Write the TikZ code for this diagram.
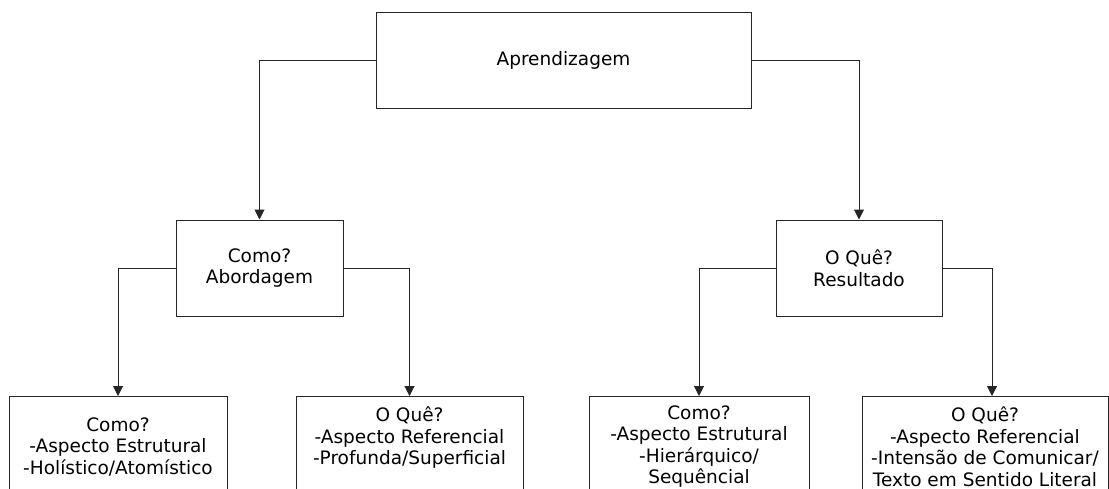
\documentclass[tikz,border=0pt]{standalone}
\usepackage{fontspec}
\setmainfont{DejaVu Sans}
\usetikzlibrary{arrows.meta,calc}
\begin{document}
\begin{tikzpicture}[x=1pt,y=-1pt,
  box/.style={draw=black!85,line width=1pt,align=center,inner sep=0pt,
    font=\fontsize{18.5}{21.5}\selectfont},
  conn/.style={draw=black!85,line width=1pt,-{Triangle[width=10pt,length=10pt]}}]
\useasboundingbox (0,0) rectangle (1109,488);
\clip (0,0) rectangle (1109,488);
\node[box,minimum width=375pt,minimum height=96pt] (top) at (563.5,60) {Aprendizagem};
\node[box,minimum width=167pt,minimum height=96pt] (abord) at (259.5,268) {Como?\\Abordagem};
\node[box,minimum width=166pt,minimum height=96pt] (res) at (859,268) {O Quê?\\Resultado};
\node[box,minimum width=218pt,minimum height=100pt,anchor=north] (b1) at (118,396) {Como?\\-Aspecto Estrutural\\-Holístico/Atomístico};
\node[box,minimum width=227pt,minimum height=100pt,anchor=north] (b2) at (409.5,396) {O Quê?\\-Aspecto Referencial\\-Profunda/Superficial\\\mbox{}};
\node[box,minimum width=220pt,minimum height=100pt,anchor=north] (b3) at (699,396) {Como?\\-Aspecto Estrutural\\-Hierárquico/\\Sequêncial};
\node[box,minimum width=246pt,minimum height=100pt,anchor=north] (b4) at (985,396) {O Quê?\\-Aspecto Referencial\\-Intensão de Comunicar/\\Texto em Sentido Literal};
\draw[conn] (top.west) -| (abord.north);
\draw[conn] (top.east) -| (res.north);
\draw[conn] (abord.west) -| (b1.north);
\draw[conn] (abord.east) -| (b2.north);
\draw[conn] (res.west) -| (b3.north);
\draw[conn] (res.east) -| ([xshift=7pt]b4.north);
\end{tikzpicture}
\end{document}
